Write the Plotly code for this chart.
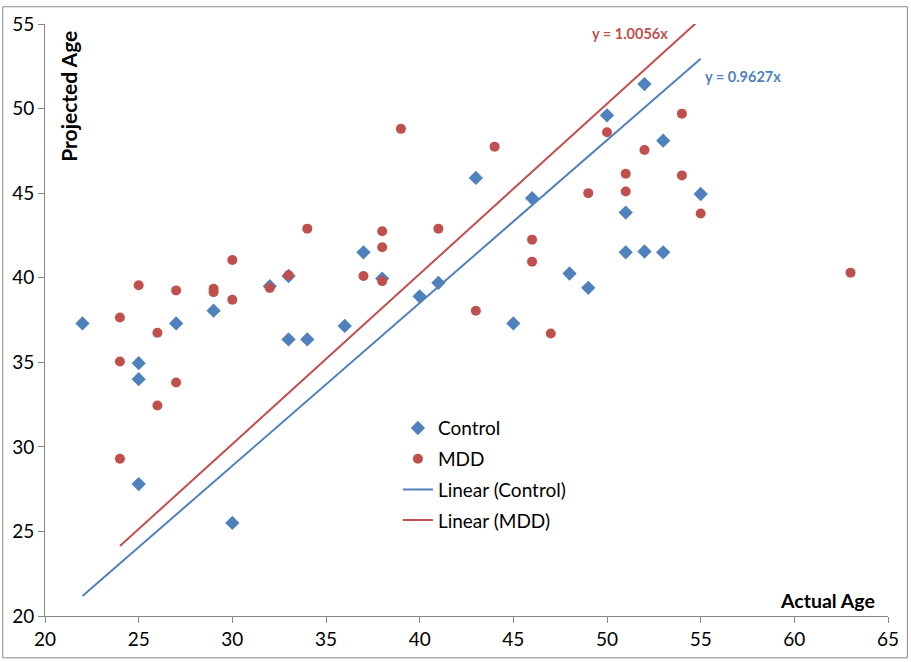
import plotly.graph_objects as go

# Control group
control_actual = [22, 25, 25, 25, 27, 29, 30, 32, 33, 33, 34, 36, 37, 38, 40, 41, 43, 45, 46, 48, 49, 50, 51, 51, 52, 52, 53, 53, 55]
control_projected = [37.3, 34.95, 34.0, 27.8, 37.3, 38.05, 25.5, 39.5, 40.1, 36.35, 36.35, 37.15, 41.5, 39.95, 38.9, 39.7, 45.9, 37.3, 44.7, 40.25, 39.4, 49.6, 43.85, 41.5, 51.45, 41.55, 48.1, 41.5, 44.95]

# MDD group
mdd_actual = [24, 24, 24, 25, 26, 26, 27, 27, 29, 29, 30, 30, 32, 33, 34, 37, 38, 38, 38, 39, 41, 43, 44, 46, 46, 47, 49, 50, 51, 51, 52, 54, 54, 55, 63]
mdd_projected = [37.65, 35.05, 29.3, 39.55, 36.75, 32.45, 39.25, 33.8, 39.35, 39.15, 41.05, 38.7, 39.4, 40.15, 42.9, 40.1, 42.75, 41.8, 39.8, 48.8, 42.9, 38.05, 47.75, 42.25, 40.95, 36.7, 45.0, 48.6, 46.15, 45.1, 47.55, 49.7, 46.05, 43.8, 40.3]

# Linear trendlines through the origin (Excel labels)
control_slope = 0.9627
mdd_slope = 1.0056
control_label = "y = 0.9627x"
mdd_label = "y = 1.0056x"

x_ticks = [20, 25, 30, 35, 40, 45, 50, 55, 60, 65]
y_ticks = [20, 25, 30, 35, 40, 45, 50, 55]

BLUE = "#4F81BD"
RED = "#C0504D"
FONT = "Lato"

fig = go.Figure()
fig.add_trace(go.Scatter(x=control_actual, y=control_projected, mode="markers", name="Control",
                         legendgroup="a",
                         marker=dict(symbol="diamond", size=11, color=BLUE)))
fig.add_trace(go.Scatter(x=mdd_actual, y=mdd_projected, mode="markers", name="MDD",
                         legendgroup="b",
                         marker=dict(symbol="circle", size=10, color=RED)))

cx = [min(control_actual), max(control_actual)]
fig.add_trace(go.Scatter(x=cx, y=[v * control_slope for v in cx], mode="lines",
                         name="Linear (Control)", legendgroup="c",
                         line=dict(color=BLUE, width=2)))
mx = [min(mdd_actual), 55]
fig.add_trace(go.Scatter(x=mx, y=[v * mdd_slope for v in mx], mode="lines",
                         name="Linear (MDD)", legendgroup="d",
                         line=dict(color=RED, width=2)))

fig.add_annotation(x=55.1, y=51.9, text="<b>" + control_label + "</b>",
                   showarrow=False, xanchor="left", yanchor="middle",
                   font=dict(family=FONT, size=14.5, color=BLUE))
fig.add_annotation(x=49.1, y=54.45, text="<b>" + mdd_label + "</b>",
                   showarrow=False, xanchor="left", yanchor="middle",
                   font=dict(family=FONT, size=14.5, color=RED))

fig.add_annotation(xref="paper", yref="paper", x=(67 - 43) / 848, y=(619 - 91) / 601,
                   text="<b>Projected Age</b>",
                   textangle=-90, showarrow=False, xanchor="center", yanchor="middle",
                   font=dict(family=FONT, size=21, color="black"))
fig.add_annotation(xref="paper", yref="paper", x=(880 - 43) / 848, y=(619 - 603) / 601,
                   text="<b>Actual Age</b>",
                   showarrow=False, xanchor="right", yanchor="middle",
                   font=dict(family=FONT, size=19.5, color="black"))

fig.add_shape(type="rect", xref="paper", yref="paper",
              x0=(0.5 - 43) / 848, x1=(910.5 - 43) / 848,
              y0=(619 - 661.5) / 601, y1=(619 - 0.5) / 601,
              line=dict(color="#888888", width=1), fillcolor="rgba(0,0,0,0)", layer="below")

fig.update_xaxes(range=[20, 65], tickvals=x_ticks, showgrid=False, zeroline=False,
                 showline=True, linecolor="#888888", linewidth=1,
                 ticks="outside", ticklen=6, tickcolor="#888888",
                 tickfont=dict(family=FONT, size=19, color="black"))
fig.update_yaxes(range=[20, 55], tickvals=y_ticks, showgrid=False, zeroline=False,
                 showline=True, linecolor="#888888", linewidth=1,
                 ticks="outside", ticklen=6, tickcolor="#888888",
                 tickfont=dict(family=FONT, size=19, color="black"))

fig.update_layout(
    width=911, height=662,
    margin=dict(l=43, r=20, t=18, b=43),
    plot_bgcolor="white", paper_bgcolor="white",
    showlegend=True,
    legend=dict(x=(398 - 43) / 848, y=(619 - 409) / 601, xanchor="left", yanchor="top",
                bgcolor="rgba(0,0,0,0)", tracegroupgap=3,
                font=dict(family=FONT, size=19, color="black")),
)

post = (
    "document.body.style.margin='0';"
    "document.body.style.padding='0';"
    "var gd=document.getElementById('{plot_id}');"
    "gd.style.position='absolute';gd.style.left='0px';gd.style.top='0px';"
)

fig.write_html("out.html", post_script=post, config={"displayModeBar": False})
